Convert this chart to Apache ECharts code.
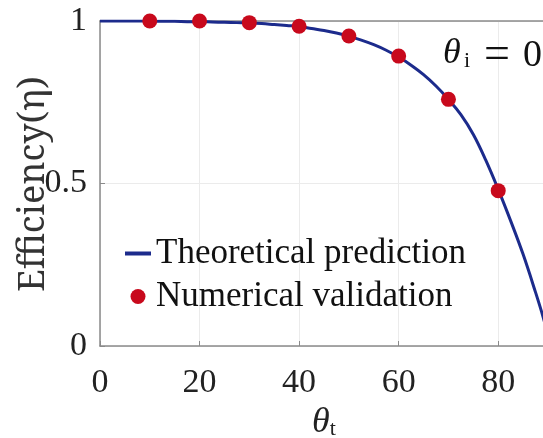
<!DOCTYPE html>
<html>
<head>
<meta charset="utf-8">
<script src="https://cdn.jsdelivr.net/npm/echarts@6/dist/echarts.min.js"></script>
<style>
  html, body { margin: 0; padding: 0; background: #fff; }
  #chart { width: 543px; height: 438px; }
</style>
</head>
<body>
<div id="chart"></div>
<script>
  // theoretical curve (every 2.5 deg)
  var thetaT = [0, 2.5, 5, 7.5, 10, 12.5, 15, 17.5, 20, 22.5, 25, 27.5, 30, 32.5, 35, 37.5, 40, 42.5, 45, 47.5,
    50, 52.5, 55, 57.5, 60, 62.5, 65, 67.5, 70, 72.5, 75, 77.5, 80, 82.5, 85, 87.5, 89, 90];
  var etaTheory = [1, 1, 1, 1, 1, 0.999, 0.999, 0.998, 0.998, 0.997, 0.996, 0.995, 0.994, 0.992, 0.989, 0.986, 0.983, 0.977, 0.971, 0.963,
    0.953, 0.941, 0.927, 0.91, 0.889, 0.864, 0.835, 0.8, 0.759, 0.712, 0.651, 0.572, 0.482, 0.385, 0.282, 0.165, 0.09, 0.03];
  // numerical validation points
  var thetaNum = [10, 20, 30, 40, 50, 60, 70, 80];
  var etaNum = [1.0, 1.0, 0.995, 0.984, 0.954, 0.892, 0.759, 0.478];

  var serif = 'Liberation Serif';
  var chart = echarts.init(document.getElementById('chart'));

  var lineData = [];
  for (var i = 0; i < thetaT.length; i++) lineData.push([thetaT[i], etaTheory[i]]);
  var dotData = [];
  for (var j = 0; j < thetaNum.length; j++) dotData.push([thetaNum[j], etaNum[j]]);

  function txt(x, y, s, size, italic) {
    return {
      type: 'text', x: x, y: y, z: 10,
      style: {
        text: s, fontFamily: serif, fontSize: size, fontStyle: italic ? 'italic' : 'normal',
        fill: '#111', verticalAlign: 'middle', align: 'left'
      }
    };
  }

  var option = {
    animation: false,
    grid: { left: 100, right: -5, top: 21, bottom: 92, outerBoundsMode: 'none' },
    legend: {
      orient: 'vertical',
      left: 118,
      top: 231,
      itemWidth: 26,
      itemHeight: 15,
      itemGap: 8,
      textStyle: { fontFamily: serif, fontSize: 35, color: '#111' },
      data: [
        { name: 'Theoretical prediction', itemStyle: { opacity: 0 }, lineStyle: { width: 4 } },
        { name: 'Numerical validation' }
      ]
    },
    xAxis: [{
      type: 'value',
      min: 0,
      max: 90,
      interval: 20,
      name: '{a|θ}{b|t}',
      nameLocation: 'middle',
      nameGap: 48,
      nameTextStyle: {
        rich: {
          a: { fontFamily: serif, fontStyle: 'italic', fontSize: 36, color: '#222' },
          b: { fontFamily: serif, fontSize: 22, color: '#222', padding: [12, 0, 0, 0] }
        }
      },
      axisLine: { lineStyle: { color: '#8a8a8a', width: 1.5 } },
      axisTick: { inside: true, length: 5, lineStyle: { color: '#8a8a8a' } },
      axisLabel: {
        fontFamily: serif, fontSize: 34, color: '#222', margin: 20,
        formatter: function (v) { return v > 80 ? '' : String(v); }
      },
      splitLine: { show: true, lineStyle: { color: '#ebebeb', width: 1 } }
    }, {
      type: 'value',
      position: 'top',
      min: 0,
      max: 90,
      interval: 20,
      axisLine: { show: true, lineStyle: { color: '#8a8a8a', width: 1.5 } },
      axisTick: { show: false },
      axisLabel: { show: false },
      splitLine: { show: false }
    }],
    yAxis: {
      type: 'value',
      min: 0,
      max: 1,
      interval: 0.5,
      axisLine: { show: true, lineStyle: { color: '#8a8a8a', width: 1.5 } },
      axisTick: { show: true, inside: true, length: 5, lineStyle: { color: '#8a8a8a' } },
      axisLabel: { fontFamily: serif, fontSize: 34, color: '#222', margin: 13 },
      splitLine: { show: true, lineStyle: { color: '#ebebeb', width: 1 } }
    },
    graphic: [
      {
        type: 'text', x: 34, y: 184, rotation: Math.PI / 2, z: 10,
        style: {
          text: 'Efficiency(η)', fontFamily: 'Noto Serif', fontSize: 36, fill: '#333',
          align: 'center', verticalAlign: 'middle'
        }
      },
      txt(443, 54, 'θ', 36, true),
      txt(464, 61, 'i', 22, false),
      txt(484, 56, '=', 46, false),
      txt(523, 56, '0', 38, false)
    ],
    series: [{
      name: 'Theoretical prediction',
      type: 'line',
      data: lineData,
      smooth: 0.4,
      symbol: 'none',
      lineStyle: { color: '#1c2b8c', width: 3 },
      itemStyle: { color: '#1c2b8c' },
      z: 2
    }, {
      name: 'Numerical validation',
      type: 'scatter',
      data: dotData,
      symbol: 'circle',
      symbolSize: 15,
      itemStyle: { color: '#c8091c', opacity: 1 },
      z: 3
    }]
  };

  chart.setOption(option);
</script>
</body>
</html>
